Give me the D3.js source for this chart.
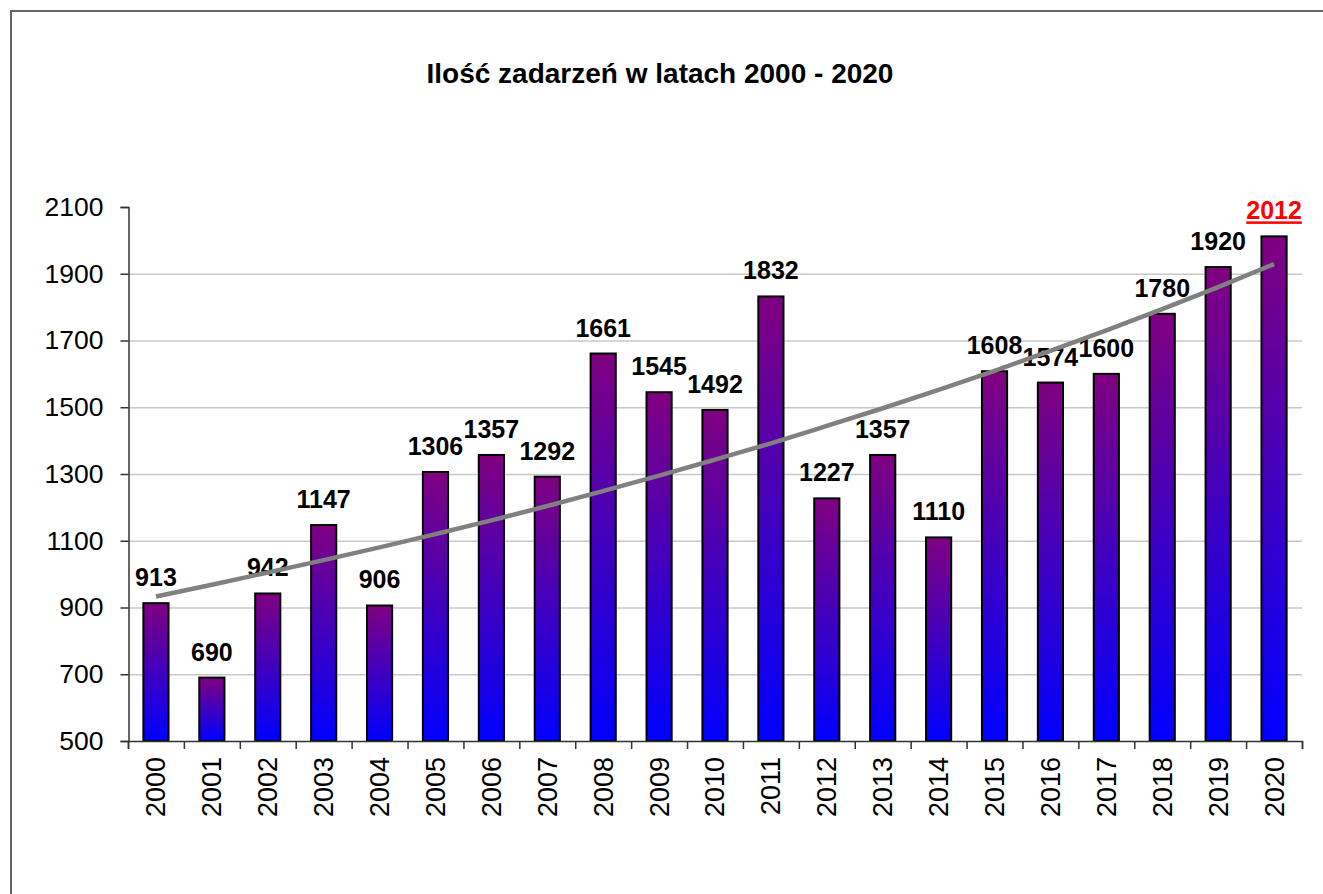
<!DOCTYPE html>
<html>
<head>
<meta charset="utf-8">
<script src="https://cdn.jsdelivr.net/npm/d3@7"></script>
<style>
  html, body { margin: 0; padding: 0; background: #fff; }
  svg { display: block; font-family: "Liberation Sans", Arial, sans-serif; }
</style>
</head>
<body>
<div id="chart"></div>
<script>
// dane
const years = ['2000', '2001', '2002', '2003', '2004', '2005', '2006', '2007', '2008', '2009', '2010',
               '2011', '2012', '2013', '2014', '2015', '2016', '2017', '2018', '2019', '2020'];
const counts = [913, 690, 942, 1147, 906, 1306, 1357, 1292, 1661, 1545, 1492,
                1832, 1227, 1357, 1110, 1608, 1574, 1600, 1780, 1920, 2012];
// linia trendu
const trend = [933, 968, 1005, 1042, 1080, 1120, 1161, 1204, 1249, 1295, 1343,
               1392, 1444, 1497, 1552, 1609, 1669, 1730, 1794, 1860, 1929];
const yTicks = [500, 700, 900, 1100, 1300, 1500, 1700, 1900, 2100];
const title = 'Ilość zadarzeń w latach 2000 - 2020';

const width = 1323;
const height = 894;
const margin = { top: 207, right: 21, bottom: 153, left: 128 };
const innerW = width - margin.left - margin.right;
const innerH = height - margin.top - margin.bottom;

const svg = d3.select('#chart')
    .append('svg')
    .attr('width', width)
    .attr('height', height);

// ramka (widoczna tylko góra i lewa strona)
svg.append('path')
    .attr('d', `M11,${height}V11H${width}`)
    .attr('fill', 'none')
    .attr('stroke', '#666')
    .attr('stroke-width', 2);

svg.append('text')
    .attr('x', 660)
    .attr('y', 83)
    .attr('text-anchor', 'middle')
    .attr('font-size', 28)
    .attr('font-weight', 'bold')
    .text(title);

const defs = svg.append('defs');
const grad = defs.append('linearGradient')
    .attr('id', 'barGrad')
    .attr('x1', 0).attr('y1', 0)
    .attr('x2', 0).attr('y2', 1);
grad.append('stop').attr('offset', '0%').attr('stop-color', '#800080');
grad.append('stop').attr('offset', '100%').attr('stop-color', '#0000ff');

const g = svg.append('g')
    .attr('transform', `translate(${margin.left},${margin.top})`);

const x = d3.scaleBand()
    .domain(years)
    .range([0, innerW])
    .padding(0);

const xEdge = d3.scaleLinear()
    .domain([0, years.length])
    .range([0, innerW]);

const y = d3.scaleLinear()
    .domain([500, 2100])
    .range([innerH, 0]);

// siatka
g.append('g')
    .selectAll('line')
    .data(yTicks.filter(t => t !== 500 && t !== 2100))
    .join('line')
    .attr('x1', 0)
    .attr('x2', innerW)
    .attr('y1', d => y(d) + 0.5)
    .attr('y2', d => y(d) + 0.5)
    .attr('stroke', '#c8c8c8')
    .attr('stroke-width', 1.5);

// oś Y
const yAxis = g.append('g')
    .attr('transform', 'translate(0.5,0)')
    .call(d3.axisLeft(y).tickValues(yTicks).tickSize(8).tickPadding(17).tickFormat(d3.format('d')));
yAxis.select('.domain').attr('stroke', '#333').attr('stroke-width', 1.5);
yAxis.selectAll('.tick line').attr('stroke', '#333').attr('stroke-width', 1.5);
yAxis.selectAll('.tick text')
    .attr('font-size', 26.5)
    .attr('font-family', '"Liberation Sans", Arial, sans-serif')
    .attr('fill', '#000');

// słupki
const barW = x.bandwidth() * 0.45;
g.append('g')
    .selectAll('rect')
    .data(counts)
    .join('rect')
    .attr('x', (d, i) => x(years[i]) + (x.bandwidth() - barW) / 2)
    .attr('y', d => y(d))
    .attr('width', barW)
    .attr('height', d => y(500) - y(d))
    .attr('fill', 'url(#barGrad)')
    .attr('stroke', '#000')
    .attr('stroke-width', 2);

// oś X - kreski na granicach kategorii
const xTickAxis = g.append('g')
    .attr('transform', `translate(0,${innerH})`)
    .call(d3.axisBottom(xEdge).tickValues(d3.range(years.length + 1)).tickSize(8).tickFormat(''));
xTickAxis.select('.domain').attr('stroke', '#333').attr('stroke-width', 1.5);
xTickAxis.selectAll('.tick line').attr('stroke', '#333').attr('stroke-width', 1.5);

// oś X - etykiety
const xLabelAxis = g.append('g')
    .attr('transform', `translate(0,${innerH})`)
    .call(d3.axisBottom(x).tickSize(0));
xLabelAxis.select('.domain').remove();
xLabelAxis.selectAll('.tick text')
    .attr('font-size', 27)
    .attr('font-family', '"Liberation Sans", Arial, sans-serif')
    .attr('fill', '#000')
    .attr('text-anchor', 'end')
    .attr('transform', 'rotate(-90)')
    .attr('x', -16)
    .attr('y', 0)
    .attr('dy', '0.35em');

// etykiety wartości
const last = counts.length - 1;
g.append('g')
    .selectAll('text')
    .data(counts)
    .join('text')
    .attr('x', (d, i) => x(years[i]) + x.bandwidth() / 2)
    .attr('y', d => y(d) - 17)
    .attr('text-anchor', 'middle')
    .attr('font-size', 25)
    .attr('font-weight', 'bold')
    .attr('fill', (d, i) => i === last ? '#ff0000' : '#000')
    .attr('text-decoration', (d, i) => i === last ? 'underline' : null)
    .text(d => d);

// linia trendu
const line = d3.line()
    .x((d, i) => x(years[i]) + x.bandwidth() / 2)
    .y(d => y(d))
    .curve(d3.curveMonotoneX);

g.append('path')
    .datum(trend)
    .attr('d', line)
    .attr('fill', 'none')
    .attr('stroke', '#808080')
    .attr('stroke-width', 4.5);
</script>
</body>
</html>
